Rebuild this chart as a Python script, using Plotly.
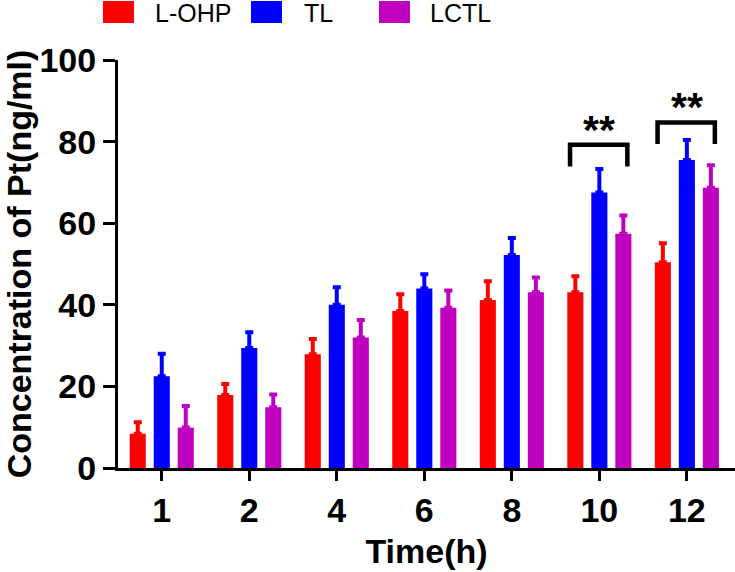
import plotly.graph_objects as go

times = ["1", "2", "4", "6", "8", "10", "12"]
series_names = ["L-OHP", "TL", "LCTL"]
lohp_mean = [8.4, 17.9, 27.9, 38.5, 41.2, 43.1, 50.4]
lohp_sd = [2.8, 2.7, 3.7, 4.1, 4.6, 3.9, 4.7]
tl_mean = [22.5, 29.4, 40.0, 44.0, 52.2, 67.5, 75.5]
tl_sd = [5.5, 3.9, 4.3, 3.5, 4.2, 5.8, 4.9]
lctl_mean = [9.9, 14.9, 32.0, 39.3, 43.1, 57.4, 68.7]
lctl_sd = [5.3, 3.1, 4.3, 4.2, 3.6, 4.5, 5.5]
colors = ["#FF0000", "#0000FF", "#BF00BF"]

# significance brackets: (group index, bracket top value, leg bottom value)
sig_groups = [5, 6]
sig_top = [79.2, 84.7]
sig_bottom = [73.9, 79.4]
sig_text = ["**", "**"]

W, H = 735, 572
ML, MR, MT, MB = 118, 0, 60, 104
PW, PH = W - ML - MR, H - MT - MB

def px_x(px):
    return (px - ML) / PW

def px_y(py):
    return (H - MB - py) / PH

xs = list(range(len(times)))
fig = go.Figure()
for name, mean, sd, col in zip(series_names, [lohp_mean, tl_mean, lctl_mean],
                               [lohp_sd, tl_sd, lctl_sd], colors):
    fig.add_trace(go.Bar(
        x=xs, y=mean, name=name, marker=dict(color=col, line=dict(width=0)),
        error_y=dict(type="data", array=sd, arrayminus=[0] * len(sd), symmetric=False,
                     color=col, thickness=4, width=4),
        showlegend=False,
    ))

shapes = []
annotations = []
for g, top, bot, txt in zip(sig_groups, sig_top, sig_bottom, sig_text):
    x0, x1 = g - 0.335, g + 0.32
    shapes.append(dict(type="path", xref="x", yref="y",
                       path=f"M {x0} {bot} L {x0} {top} L {x1} {top} L {x1} {bot}",
                       line=dict(color="black", width=4.5)))
    annotations.append(dict(x=g, y=top, xref="x", yref="y", text=txt, showarrow=False,
                            yanchor="middle", yshift=15,
                            font=dict(family="Liberation Sans", size=41, color="black", weight="bold")))

# manual legend
leg_boxes = [(103, 134, "L-OHP", 153), (251, 282, "TL", 302), (379, 410, "LCTL", 428)]
for (bx0, bx1, label, tx), col in zip(leg_boxes, colors):
    shapes.append(dict(type="rect", xref="paper", yref="paper",
                       x0=px_x(bx0), x1=px_x(bx1), y0=px_y(23), y1=px_y(1),
                       fillcolor=col, line=dict(width=0)))
    annotations.append(dict(x=px_x(tx), y=px_y(13), xref="paper", yref="paper", text=label,
                            showarrow=False, xanchor="left", yanchor="middle",
                            font=dict(family="Liberation Sans", size=25, color="black")))

axis_font = dict(family="Liberation Sans", size=34, color="black", weight="bold")
tick_font = dict(family="Liberation Sans", size=34, color="black", weight="bold")
fig.update_layout(
    width=W, height=H, margin=dict(l=ML, r=MR, t=MT, b=MB, pad=0),
    plot_bgcolor="white", paper_bgcolor="white",
    barmode="group", bargap=0.177, bargroupgap=0.33,
    shapes=shapes, annotations=annotations,
    xaxis=dict(range=[-0.5, 6.55], tickvals=xs, ticktext=times, showline=True,
               linecolor="black", linewidth=3, ticks="outside", ticklen=10, tickwidth=3,
               tickcolor="black", showgrid=False, zeroline=False, tickfont=tick_font,
               automargin=False,
               title=dict(text="Time(h)", font=axis_font, standoff=12)),
    yaxis=dict(range=[0, 100], tickvals=[0, 20, 40, 60, 80, 100], showline=True,
               linecolor="black", linewidth=3, ticks="outside", ticklen=12, tickwidth=3,
               tickcolor="black", showgrid=False, zeroline=False, tickfont=tick_font,
               automargin=False,
               title=dict(text="Concentration of Pt(ng/ml)", font=axis_font, standoff=10)),
)
fig.write_html("out.html", config={"displayModeBar": False},
               post_script="document.body.style.margin='0px';")
